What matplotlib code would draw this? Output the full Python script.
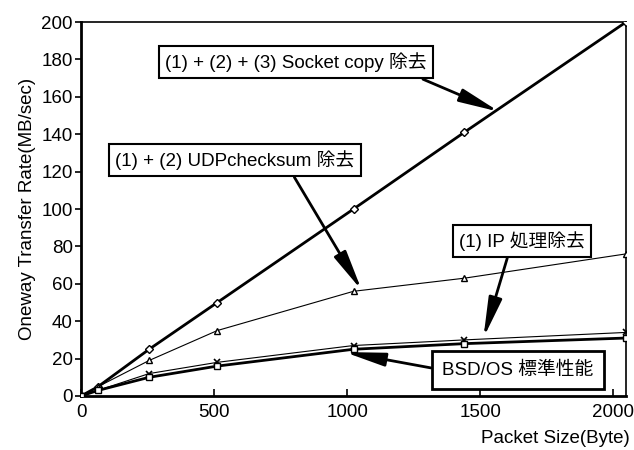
import matplotlib
matplotlib.use("Agg")
import matplotlib.pyplot as plt

plt.rcParams['font.family'] = ['Liberation Sans', 'Noto Sans CJK JP', 'DejaVu Sans']

packet_size = [0, 64, 256, 512, 1024, 1440, 2048]
socket_copy = [0, 5, 25, 50, 100, 141, 200]
udp_checksum = [0, 5, 19, 35, 56, 63, 76]
ip_proc = [0, 3, 12, 18, 27, 30, 34]
bsd_os = [0, 3, 10, 16, 25, 28, 31]

x_ticks = [0, 500, 1000, 1500, 2000]
y_ticks = list(range(0, 201, 20))

label_socket = "(1) + (2) + (3) Socket copy 除去"
label_udp = "(1) + (2) UDPchecksum 除去"
label_ip = "(1) IP 処理除去"
label_bsd = "BSD/OS 標準性能"

fs = 13.5

fig = plt.figure(figsize=(6.34, 4.5), dpi=100)
ax = fig.add_axes([0.1278, 0.12, 0.8596, 0.831])

ax.plot(packet_size, socket_copy, color='black', lw=2.0, marker='D', ms=4,
        mfc='white', mec='black', mew=1.0, zorder=4)
ax.plot(packet_size, udp_checksum, color='black', lw=0.8, marker='^', ms=5,
        mfc='white', mec='black', mew=1.0, zorder=4)
ax.plot(packet_size, ip_proc, color='black', lw=0.8, marker='x', ms=5,
        mfc='white', mec='black', mew=1.2, zorder=4)
ax.plot(packet_size, bsd_os, color='black', lw=2.0, marker='s', ms=5,
        mfc='white', mec='black', mew=1.0, zorder=4)

ax.set_xlim(0, 2048)
ax.set_ylim(0, 200)
ax.set_xticks(x_ticks)
ax.set_yticks(y_ticks)
ax.tick_params(axis='x', direction='in', length=5, width=1.2, labelsize=fs, pad=6)
ax.tick_params(axis='y', direction='out', length=4, width=1.2, labelsize=fs, pad=2)
for s in ax.spines.values():
    s.set_linewidth(1.2)
for s in ['left', 'bottom']:
    ax.spines[s].set_linewidth(2.0)

ax.set_ylabel("Oneway Transfer Rate(MB/sec)", fontsize=fs, labelpad=4)
fig.text(0.993, 0.006, "Packet Size(Byte)", ha='right', va='bottom', fontsize=fs)

box = dict(boxstyle='square,pad=0.35', fc='white', ec='black', lw=1.5)
arrow = dict(arrowstyle='-|>,head_length=1.8,head_width=0.3', color='black',
             lw=2.0, shrinkA=0, shrinkB=0)

ax.annotate(label_socket, xy=(1572, 152), xytext=(296, 388),
            textcoords='figure pixels',
            ha='center', va='center', fontsize=fs, bbox=box,
            arrowprops=dict(arrow, relpos=(0.92, 0.0)), zorder=6)
ax.annotate(label_udp, xy=(1055, 56.5), xytext=(235, 290),
            textcoords='figure pixels',
            ha='center', va='center', fontsize=fs, bbox=box,
            arrowprops=dict(arrow, relpos=(0.73, 0.0)), zorder=6)
ax.annotate(label_ip, xy=(1512, 31), xytext=(522, 209),
            textcoords='figure pixels',
            ha='center', va='center', fontsize=fs, bbox=box,
            arrowprops=dict(arrow, relpos=(0.4, 0.0)), zorder=6)
ax.annotate(label_bsd, xy=(990, 23.5), xytext=(518, 80),
            textcoords='figure pixels',
            ha='center', va='center', fontsize=fs,
            bbox=dict(boxstyle='square,pad=0.55', fc='white', ec='black', lw=2.0),
            arrowprops=dict(arrow, relpos=(0.0, 0.5)), zorder=6)

fig.savefig("out.png", dpi=100)
